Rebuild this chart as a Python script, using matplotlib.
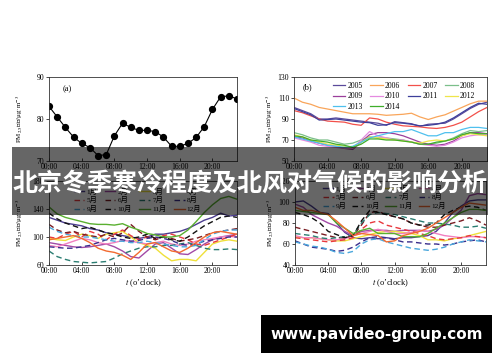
import matplotlib
matplotlib.use('Agg')
import matplotlib.pyplot as plt
from matplotlib.patches import Rectangle

plt.rcParams['font.family'] = ['Liberation Serif', 'Noto Sans CJK SC', 'DejaVu Sans']
plt.rcParams['mathtext.fontset'] = 'stix'

HOURS = list(range(24))
HOUR_TICKS = [0, 4, 8, 12, 16, 20]
HOUR_LABELS = ['00:00', '04:00', '08:00', '12:00', '16:00', '20:00']
YLABEL = 'PM$_{2.5}$浓度/μg·m$^{-3}$'
TITLE = '北京冬季寒冷程度及北风对气候的影响分析'
SITE = 'www.pavideo-group.com'

# (a) mean diurnal PM2.5
PM_MEAN = [83, 80.5, 78, 75.7, 74.2, 73.2, 71.3, 71.5, 76, 79, 78, 77.3,
           77.3, 77, 75.7, 73.5, 73.5, 74.2, 75.6, 78.2, 82.3, 85.3, 85.5, 84.8]

# (b) diurnal curve per year
YEARS = ['2005', '2006', '2007', '2008', '2009', '2010', '2011', '2012', '2013', '2014']
YEAR_COLORS = ['#5b4a9b', '#f9a55a', '#f2504a', '#7bbf8a', '#9b3f9b',
               '#e58ae0', '#3d3f9a', '#efe54a', '#4fc0ee', '#3fae2a']
PM_2005 = [101, 98, 95, 90, 90, 91, 90, 89, 88, 87, 86, 84,
           87.5, 86.5, 85.5, 83, 85, 85.5, 86, 90, 95, 100, 104, 106]
PM_2006 = [110, 106, 104, 101, 99.5, 98, 96.5, 95, 95, 95, 94.5, 93.5,
           94, 94.5, 95.5, 92, 89.5, 92, 94, 97.5, 101, 104.5, 107, 107]
PM_2007 = [98, 96, 93, 90, 88, 87.5, 87, 85, 84, 91, 90, 87,
           85, 83.5, 83, 82.5, 81.5, 81, 82, 84, 87, 92, 97, 101]
PM_2008 = [77, 75, 72, 70, 70, 68, 66, 67, 70, 73, 72, 72,
           71, 70, 68, 66, 66, 67, 69, 72, 76, 79, 78, 79]
PM_2009 = [73, 72, 69, 67, 65, 64, 62, 61, 68, 75, 77, 77,
           76, 74, 71, 68, 66, 65, 66, 69, 74, 77, 77, 76]
PM_2010 = [72, 70, 68, 65, 64, 63, 62, 62, 70, 78, 74, 72,
           70, 70, 68, 66, 65, 64, 65, 68, 72, 74, 75, 75]
PM_2011 = [100, 97, 94, 89, 89.5, 90, 89, 88, 87, 86.5, 84, 84.5,
           86.5, 86, 85, 83.5, 84, 85, 87, 91, 96, 101, 105, 104]
PM_2012 = [75, 73, 70, 68, 66, 65, 64, 63, 68, 73, 72, 71,
           70, 69, 68, 67, 69, 70, 69, 71, 74, 76, 75, 74]
PM_2013 = [73, 71, 69, 67, 65, 64, 63, 64, 68, 72, 74, 76,
           78, 78, 80, 77, 74, 74, 77, 77, 80, 82, 82, 81]
PM_2014 = [74, 73, 70, 69, 68, 66, 65, 63, 66, 71, 71, 70,
           70, 69, 68, 66, 66, 68, 69, 71, 75, 77, 76, 76]
YEAR_SERIES = [PM_2005, PM_2006, PM_2007, PM_2008, PM_2009,
               PM_2010, PM_2011, PM_2012, PM_2013, PM_2014]

# (c)/(d) diurnal curve per month
MONTHS = ['1月', '2月', '3月', '4月', '5月', '6月', '7月', '8月', '9月', '10月', '11月', '12月']
MONTH_COLORS = ['#4b3d8f', '#a24aa6', '#efe03a', '#f07fc0', '#e8383d', '#7a1c22',
                '#2b7d72', '#3a2e8c', '#4aa7dc', '#111111', '#5ab030', '#f26a30']
MONTH_DASHED = [False, False, False, False, True, True,
                True, True, True, True, False, False]

C_SERIES = [
    [128, 124, 120, 118, 116, 112, 110, 106, 104, 102, 100, 98, 100, 104, 104, 106, 108, 112, 118, 124, 128, 134, 130, 131],
    [92, 90, 88, 86, 85, 86, 88, 90, 86, 80, 72, 70, 80, 90, 92, 84, 76, 75, 82, 90, 96, 100, 102, 104],
    [98, 96, 95, 100, 104, 102, 98, 104, 106, 108, 100, 92, 88, 84, 74, 66, 68, 68, 66, 78, 90, 94, 96, 94],
    [88, 86, 90, 94, 98, 96, 92, 90, 92, 95, 94, 92, 90, 92, 94, 90, 88, 90, 94, 96, 98, 100, 101, 100],
    [100, 98, 104, 108, 100, 108, 104, 96, 104, 110, 102, 96, 100, 98, 102, 104, 100, 96, 90, 88, 92, 96, 100, 104],
    [118, 110, 106, 108, 104, 102, 100, 104, 100, 106, 118, 108, 100, 96, 100, 98, 94, 96, 98, 102, 106, 108, 110, 112],
    [80, 72, 68, 65, 64, 63, 64, 65, 70, 76, 80, 84, 86, 86, 88, 88, 90, 92, 88, 84, 82, 82, 83, 82],
    [86, 85, 84, 84, 86, 88, 92, 96, 98, 96, 94, 95, 98, 100, 98, 95, 90, 88, 90, 94, 96, 98, 100, 100],
    [114, 108, 104, 102, 100, 100, 98, 96, 94, 94, 92, 92, 94, 92, 90, 88, 86, 86, 88, 96, 104, 108, 110, 110],
    [134, 126, 120, 116, 112, 114, 110, 106, 104, 100, 98, 100, 104, 98, 100, 96, 94, 100, 108, 116, 122, 128, 130, 128],
    [143, 133, 128, 125, 122, 119, 118, 118, 117, 119, 114, 110, 105, 103, 100, 100, 102, 110, 122, 135, 146, 155, 158, 154],
    [96, 98, 100, 102, 98, 92, 84, 80, 78, 74, 68, 78, 90, 92, 86, 80, 78, 84, 92, 100, 106, 108, 106, 104],
]
D_SERIES = [
    [100, 101, 96, 90, 89, 80, 71, 66, 65, 66, 65, 66, 65, 66, 66, 67, 68, 72, 80, 90, 96, 101, 102, 102],
    [98, 95, 88, 84, 80, 77, 72, 68, 72, 73, 73, 73, 72, 73, 73, 73, 72, 74, 78, 85, 92, 106, 108, 107],
    [67, 66, 66, 65, 64, 63, 63, 65, 67, 69, 71, 72, 72, 71, 70, 68, 64, 64, 63, 65, 66, 68, 70, 72],
    [68, 66, 66, 65, 64, 64, 65, 68, 70, 72, 74, 72, 70, 70, 71, 73, 72, 70, 68, 67, 66, 67, 67, 66],
    [66, 65, 64, 63, 62, 63, 64, 66, 74, 80, 82, 78, 76, 74, 72, 70, 68, 65, 64, 65, 66, 68, 67, 66],
    [76, 74, 72, 70, 68, 66, 66, 68, 78, 90, 91, 88, 86, 84, 80, 78, 76, 76, 78, 80, 82, 85, 82, 78],
    [70, 69, 68, 66, 65, 66, 67, 69, 80, 88, 90, 89, 88, 86, 84, 82, 80, 80, 79, 78, 76, 76, 77, 75],
    [63, 60, 57, 56, 55, 53, 54, 57, 62, 66, 67, 66, 64, 62, 62, 61, 60, 60, 59, 60, 62, 63, 64, 62],
    [62, 60, 58, 57, 55, 52, 51, 53, 60, 64, 65, 62, 60, 58, 56, 55, 54, 55, 57, 60, 62, 64, 63, 62],
    [90, 88, 85, 80, 72, 69, 66, 68, 82, 92, 90, 88, 86, 84, 80, 78, 78, 80, 88, 92, 95, 96, 95, 92],
    [92, 91, 90, 89, 88, 80, 75, 70, 73, 75, 70, 70, 70, 67, 67, 67, 70, 75, 80, 85, 90, 93, 93, 92],
    [95, 92, 92, 90, 88, 82, 75, 68, 70, 69, 68, 62, 63, 68, 70, 72, 75, 80, 85, 90, 95, 99, 98, 97],
]

W, H = 500, 362


def px_axes(fig, x0, y0, x1, y1):
    """axes from pixel box (top-left origin)"""
    return fig.add_axes([x0 / W, 1 - y1 / H, (x1 - x0) / W, (y1 - y0) / H])


def style(ax, ylim, yticks, label_x):
    ax.set_xlim(0, 23)
    ax.set_ylim(*ylim)
    ax.set_xticks(HOUR_TICKS)
    ax.set_xticklabels(HOUR_LABELS)
    ax.set_yticks(yticks)
    ax.tick_params(axis='both', labelsize=5.5, length=2, width=0.5, pad=1.5)
    ax.tick_params(axis='x', direction='in')
    for s in ax.spines.values():
        s.set_linewidth(0.6)
        s.set_color('#333333')
    ax.set_ylabel(YLABEL, fontsize=5)
    ax.yaxis.set_label_coords(label_x, 0.5)


def reorder(items, ncol):
    nrow = -(-len(items) // ncol)
    out = []
    for c in range(ncol):
        for r in range(nrow):
            i = r * ncol + c
            if i < len(items):
                out.append(items[i])
    return out


fig = plt.figure(figsize=(W / 100, H / 100), dpi=100)

# (a)
ax = px_axes(fig, 49, 77, 237, 161)
ax.plot(HOURS, PM_MEAN, color='black', lw=0.8, marker='o', ms=4.2)
style(ax, (70, 90), [70, 80, 90], -0.13)
ax.text(0.07, 0.83, '(a)', transform=ax.transAxes, fontsize=6)

# (b)
ax = px_axes(fig, 294, 77, 487, 161)
lines = []
for name, col, vals in zip(YEARS, YEAR_COLORS, YEAR_SERIES):
    ln, = ax.plot(HOURS, vals, color=col, lw=0.9, label=name)
    lines.append(ln)
style(ax, (50, 130), [50, 70, 90, 110, 130], -0.10)
ax.text(0.045, 0.86, '(b)', transform=ax.transAxes, fontsize=6)
ax.legend(reorder(lines, 4), reorder(YEARS, 4), ncol=4, frameon=False,
          fontsize=5.5, handlelength=1.6, columnspacing=1.0, handletextpad=0.3,
          labelspacing=0.3, loc='upper left', bbox_to_anchor=(0.176, 1.0),
          borderaxespad=0.25)

# (c) and (d)
for x0, x1, series, ylim, yticks, lx, lpos, lpad, cspace in [
        (49, 237, C_SERIES, (60, 180), [60, 100, 140, 180], -0.13, 0.096, 0.5, 1.0),
        (295, 486, D_SERIES, (40, 120), [40, 60, 80, 100, 120], -0.10, 0.126, 0.1, 0.8)]:
    ax = px_axes(fig, x0, 181, x1, 265)
    lines = []
    for name, col, dash, vals in zip(MONTHS, MONTH_COLORS, MONTH_DASHED, series):
        ln, = ax.plot(HOURS, vals, color=col, lw=1.0,
                      ls=(0, (4, 2.5)) if dash else '-', label=name)
        lines.append(ln)
    style(ax, ylim, yticks, lx)
    ax.set_xlabel("$t$ (o\u2019clock)", fontsize=6, labelpad=2)
    ax.legend(reorder(lines, 4), reorder(MONTHS, 4), ncol=4, frameon=False,
              fontsize=5.2, handlelength=1.5, columnspacing=cspace,
              handletextpad=0.3, labelspacing=0.25, loc='upper left',
              bbox_to_anchor=(lpos, 1.0), borderaxespad=lpad)

# banner across the middle
fig.add_artist(Rectangle((12 / W, 1 - 215 / H), 476 / W, 68 / H,
                         transform=fig.transFigure, facecolor='black',
                         alpha=0.6, edgecolor='none', zorder=10))
fig.text(0.5, 1 - 185 / H, TITLE, ha='center', va='center', color='white',
         fontsize=18, fontweight='bold', family=['Noto Sans CJK SC'], zorder=11)

# site box bottom right
fig.add_artist(Rectangle((261 / W, 1 - 353 / H), 231 / W, 38 / H,
                         transform=fig.transFigure, facecolor='black',
                         edgecolor='none', zorder=10))
fig.text(376.5 / W, 1 - 335 / H, SITE, ha='center', va='center', color='white',
         fontsize=11, fontweight='bold', family=['DejaVu Sans'], zorder=11)

fig.savefig('out.png', dpi=100)
